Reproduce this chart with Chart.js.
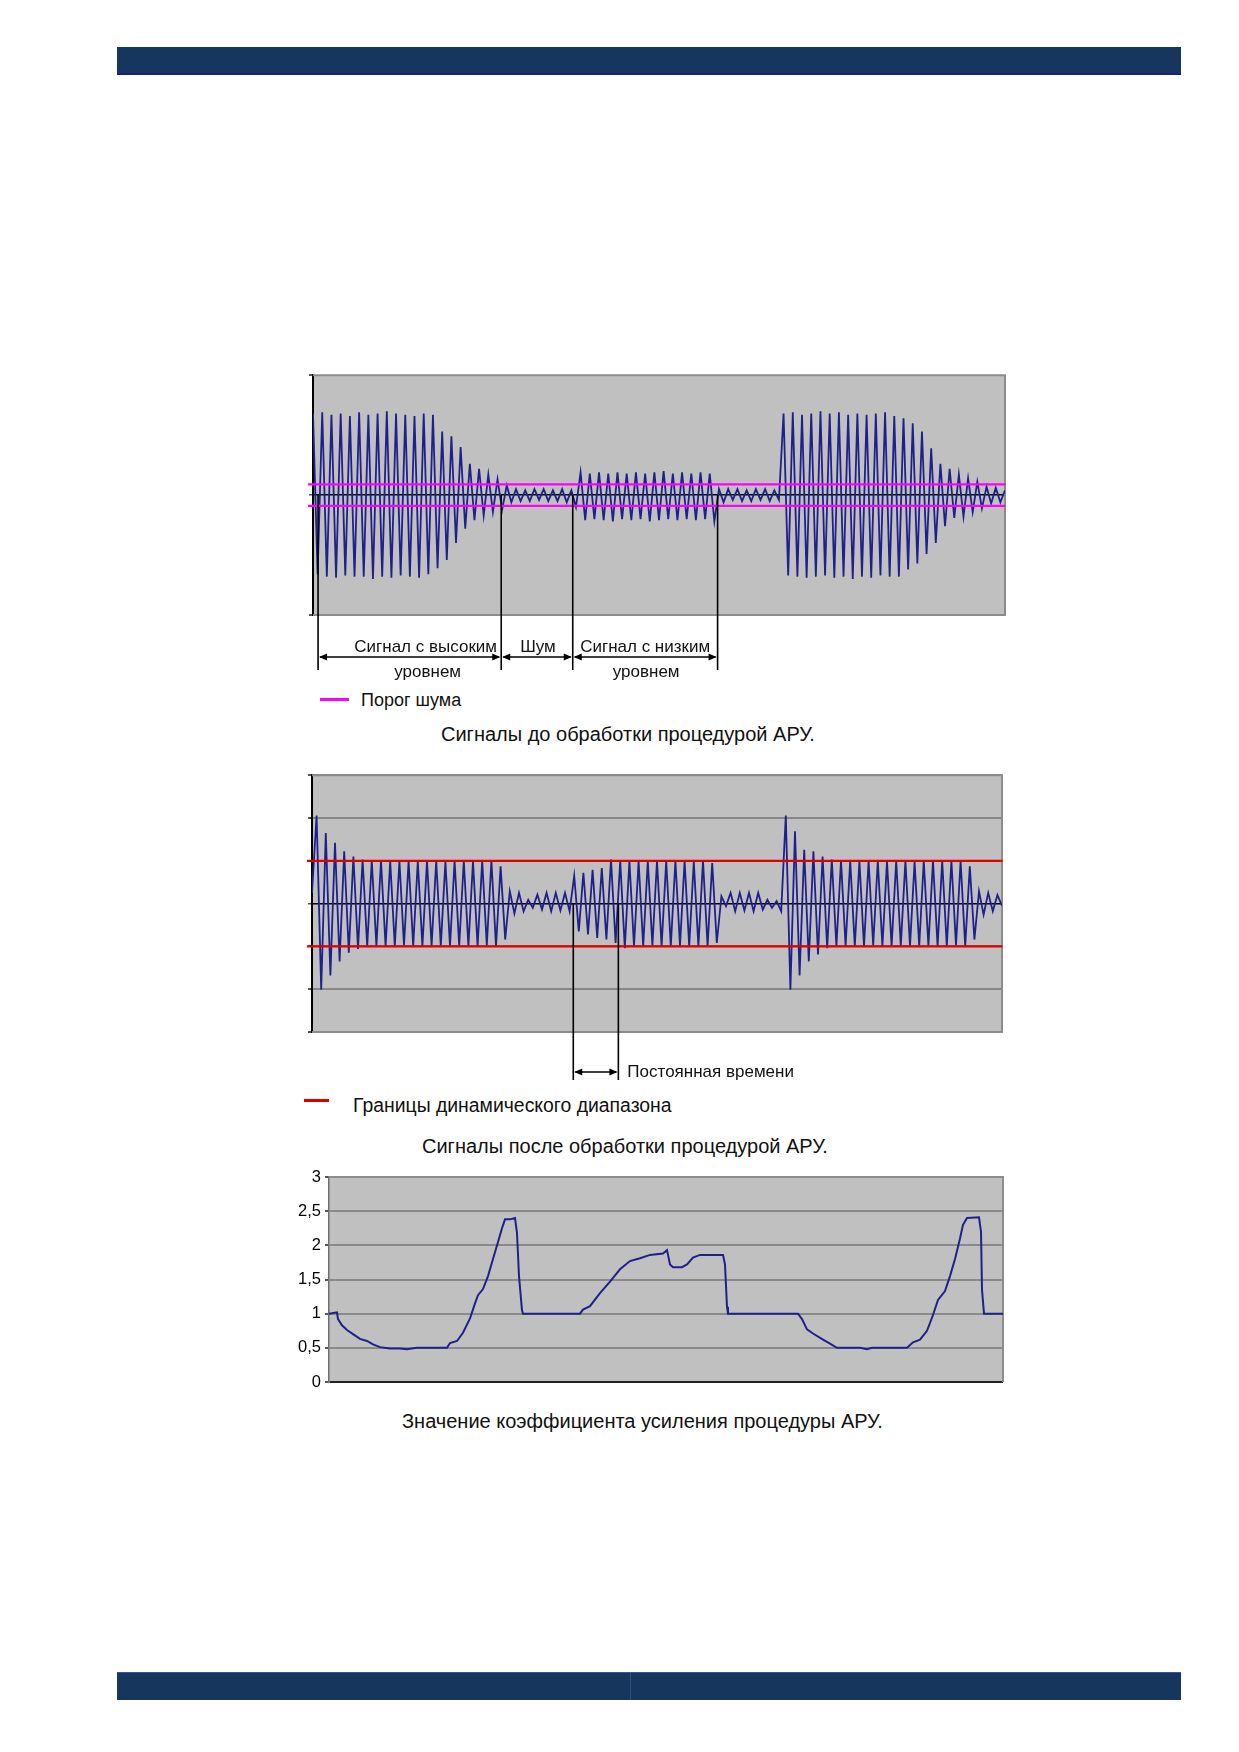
<!DOCTYPE html>
<html lang="ru">
<head>
<meta charset="UTF-8">
<title>Сигналы АРУ</title>
<script src="https://cdn.jsdelivr.net/npm/chart.js"></script>
<style>
  body { margin: 0; background: #fff; font-family: "Liberation Sans", Arial, sans-serif; }
  .page { position: relative; width: 1239px; height: 1752px; overflow: hidden; }
  .bar { position: absolute; left: 117px; width: 1064px; background: #17365d; }
  .top-bar { top: 47px; height: 26px; border-bottom: 2px solid #1b1b8a; }
  .bottom-bar { top: 1672px; height: 27px; border-top: 1px solid #3b4fb0; }
  .bottom-bar .split { position: absolute; left: 513px; top: 0; bottom: 0; width: 1px; background: #2f4f80; }
  .box { position: absolute; }
  .txt { position: absolute; white-space: nowrap; color: #111; line-height: 1; }
  .key { position: absolute; height: 3px; }
</style>
</head>
<body>
<div class="page">
  <div class="bar top-bar"></div>

  <div class="box" style="left:280px; top:365px; width:740px; height:320px;">
    <canvas id="before" width="740" height="320"></canvas>
  </div>
  <div class="key" style="left:320px; top:698px; width:29px; background:#ff00ff;"></div>
  <div class="txt" style="left:361px; top:691px; font-size:18px;">Порог шума</div>
  <div class="txt" style="left:441px; top:724px; font-size:20px;">Сигналы до обработки процедурой АРУ.</div>

  <div class="box" style="left:280px; top:765px; width:740px; height:325px;">
    <canvas id="after" width="740" height="325"></canvas>
  </div>
  <div class="key" style="left:304px; top:1099px; width:25px; background:#e00000;"></div>
  <div class="txt" style="left:353px; top:1096px; font-size:19.4px;">Границы динамического диапазона</div>
  <div class="txt" style="left:422px; top:1136px; font-size:20px;">Сигналы после обработки процедурой АРУ.</div>

  <div class="box" style="left:280px; top:1160px; width:740px; height:240px;">
    <canvas id="gain" width="740" height="240"></canvas>
  </div>
  <div class="txt" style="left:402px; top:1411px; font-size:20px;">Значение коэффициента усиления процедуры АРУ.</div>

  <div class="bar bottom-bar"><div class="split"></div></div>
</div>

<script>
// signal before AGC: successive extremes
const before = [
  0.68, -0.66, 0.69, -0.68, 0.67, -0.69, 0.68, -0.67, 0.66, -0.68, 0.69, -0.68, 0.67, -0.70,
  0.68, -0.68, 0.70, -0.69, 0.68, -0.67, 0.67, -0.68, 0.66, -0.69, 0.68, -0.66, 0.67,
  -0.61, 0.53, -0.54, 0.49, -0.40, 0.40, -0.28, 0.26, -0.21, 0.22, -0.17, 0.17, -0.14, 0.13, -0.12,
  0.08, -0.06, 0.05, -0.05, 0.04, -0.05, 0.05, -0.04, 0.05, -0.05, 0.04, -0.05, 0.05, -0.06, 0.04,
  -0.10, 0.19, -0.21, 0.18, -0.20, 0.19, -0.21, 0.18, -0.22, 0.19, -0.20, 0.18, -0.21, 0.19, -0.20,
  0.18, -0.22, 0.19, -0.21, 0.20, -0.20, 0.18, -0.21, 0.19, -0.20, 0.18, -0.21, 0.19, -0.20, 0.18, -0.22,
  0.05, -0.06, 0.05, -0.04, 0.05, -0.05, 0.04, -0.05, 0.05, -0.04, 0.05, -0.05, 0.04, -0.04,
  0.68, -0.67, 0.69, -0.68, 0.67, -0.69, 0.68, -0.68, 0.70, -0.67, 0.68, -0.69, 0.69, -0.68,
  0.67, -0.70, 0.68, -0.68, 0.67, -0.69, 0.68, -0.67, 0.69, -0.68, 0.66, -0.68, 0.64,
  -0.62, 0.60, -0.57, 0.53, -0.49, 0.39, -0.40, 0.26, -0.26, 0.22, -0.19, 0.17, -0.18, 0.14,
  -0.14, 0.11, -0.11, 0.07, -0.07, 0.06, -0.06, 0.04
];
const noiseThreshold = [0.09, -0.09];
const beforeMarks = [1.1, 40.8, 56.3, 87.7];

// signal after AGC
const after = [
  0.25, 2.06, -2.01, 1.65, -1.68, 1.42, -1.35, 1.22, -1.15, 1.10, -1.06, 1.03, -1.00,
  1.00, -0.99, 1.00, -1.00, 0.99, -1.00, 1.00, -0.98, 1.00, -1.00, 0.99, -1.00, 1.00, -0.99,
  1.00, -1.00, 0.98, -1.00, 1.00, -0.99, 1.00, -1.00, 0.99, -1.00, 1.00, -0.98, 1.00, -1.00,
  0.87, -0.84,
  0.29, -0.23, 0.25, -0.18, 0.09, -0.10, 0.21, -0.14, 0.25, -0.18, 0.25, -0.16, 0.25, -0.18,
  0.65, -0.65, 0.72, -0.72, 0.79, -0.80, 0.83, -0.84, 1.03, -0.92, 1.00, -1.04,
  1.00, -1.00, 0.99, -1.00, 1.00, -0.98, 1.00, -1.00, 0.99, -1.00, 1.00, -0.99, 1.00, -1.00,
  0.98, -1.00, 1.00, -1.00,
  0.95, -0.92,
  0.17, -0.06, 0.25, -0.18, 0.25, -0.16, 0.25, -0.18, 0.25, -0.14, 0.09, -0.10, 0.06, -0.18,
  2.06, -2.01, 1.69, -1.68, 1.26, -1.35, 1.22, -1.19, 1.10, -1.04, 1.03, -1.00,
  1.00, -0.99, 1.00, -1.00, 0.99, -1.00, 1.00, -0.98, 1.00, -1.00, 0.99, -1.00, 1.00, -0.99,
  1.00, -1.00, 0.98, -1.00, 1.00, -0.99, 1.00, -1.00, 0.99, -1.00, 1.00, -0.98, 1.00, -1.00,
  0.87, -0.84,
  0.29, -0.26, 0.25, -0.18, 0.20, -0.05
];
const rangeLimits = [1, -1];
const afterMarks = [56.8, 66.6];

// AGC gain
const gainTime = [0, 8, 9, 13, 18, 24, 31, 38, 44, 51, 61, 71, 78, 88, 118, 121, 128, 134, 141, 146,
  149, 154, 159, 164, 169, 173, 176, 181, 186, 188, 190, 193, 194, 251, 254, 261, 271, 281, 291, 301,
  311, 321, 334, 338, 341, 344, 353, 358, 364, 371, 394, 396, 398, 399, 469, 473, 478, 484, 494, 501,
  508, 531, 538, 543, 578, 584, 591, 598, 604, 609, 616, 621, 626, 631, 634, 638, 650, 652, 653, 655, 674];
const gainValue = [1.00, 1.02, 0.92, 0.83, 0.76, 0.70, 0.63, 0.60, 0.55, 0.51, 0.49, 0.49, 0.48, 0.50, 0.50, 0.57, 0.60, 0.72, 0.93, 1.15,
  1.27, 1.36, 1.55, 1.80, 2.05, 2.25, 2.38, 2.38, 2.40, 2.18, 1.55, 1.05, 1.00, 1.00, 1.06, 1.11, 1.30, 1.47, 1.65, 1.77,
  1.81, 1.86, 1.88, 1.93, 1.72, 1.68, 1.68, 1.72, 1.82, 1.86, 1.86, 1.72, 1.10, 1.00, 1.00, 0.92, 0.77, 0.71, 0.62, 0.56,
  0.50, 0.50, 0.48, 0.50, 0.50, 0.58, 0.62, 0.75, 0.98, 1.20, 1.33, 1.55, 1.80, 2.10, 2.30, 2.40, 2.41, 2.20, 1.35, 1.00, 1.00];
const gainTicks = ['0', '0,5', '1', '1,5', '2', '2,5', '3'];

const FONT = '"Liberation Sans", Arial, sans-serif';
const NAVY = '#20208c';

// silver plot area + grey frame
const frame = {
  id: 'frame',
  beforeDraw(chart) {
    const { ctx, chartArea: a } = chart;
    ctx.save();
    ctx.fillStyle = '#c0c0c0';
    ctx.fillRect(a.left, a.top, a.right - a.left, a.bottom - a.top);
    ctx.restore();
  },
  beforeDatasetsDraw(chart, args, opts) {
    const { ctx, chartArea: a } = chart;
    ctx.save();
    ctx.strokeStyle = '#8c8c8c';
    ctx.lineWidth = 2;
    ctx.beginPath();
    ctx.moveTo(a.left, a.top);
    ctx.lineTo(a.right, a.top);
    ctx.lineTo(a.right, a.bottom);
    if (opts.bottom !== false) ctx.lineTo(a.left, a.bottom);
    ctx.stroke();
    ctx.restore();
  }
};

function arrowHead(ctx, x, y, dir) {
  ctx.beginPath();
  ctx.moveTo(x, y);
  ctx.lineTo(x - dir * 8, y - 3.5);
  ctx.lineTo(x - dir * 8, y + 3.5);
  ctx.closePath();
  ctx.fill();
}

// vertical markers, dimension arrows and their captions
const marks = {
  id: 'marks',
  afterDraw(chart, args, opts) {
    if (!opts.at) return;
    const { ctx } = chart;
    const xs = chart.scales.x, ys = chart.scales.y;
    const bottom = chart.chartArea.bottom;
    const px = opts.at.map(v => xs.getPixelForValue(v));
    const y0 = ys.getPixelForValue(0);
    ctx.save();
    ctx.strokeStyle = '#000';
    ctx.fillStyle = '#000';
    ctx.lineWidth = 1.6;
    px.forEach(p => {
      ctx.beginPath();
      ctx.moveTo(p, y0);
      ctx.lineTo(p, bottom + opts.drop);
      ctx.stroke();
    });
    const ay = bottom + opts.arrowY;
    ctx.lineWidth = 1.4;
    for (let k = 0; k < px.length - 1; k++) {
      ctx.beginPath();
      ctx.moveTo(px[k] + 2, ay);
      ctx.lineTo(px[k + 1] - 2, ay);
      ctx.stroke();
      arrowHead(ctx, px[k] + 1, ay, -1);
      arrowHead(ctx, px[k + 1] - 1, ay, 1);
    }
    ctx.font = '17px ' + FONT;
    ctx.fillStyle = '#111';
    ctx.textBaseline = 'middle';
    opts.labels.forEach(l => {
      ctx.textAlign = l.align || 'center';
      const x = l.align === 'left' ? px[l.seg] + l.dx : (px[l.seg] + px[l.seg + 1]) / 2 + l.dx;
      ctx.fillText(l.text, x, bottom + l.dy);
    });
    ctx.restore();
  }
};

Chart.register(frame, marks);

const pts = arr => arr.map((v, i) => ({ x: i, y: v }));
const hline = (v, x0, x1) => [{ x: x0, y: v }, { x: x1, y: v }];

function signalChart(id, data, levels, levelColor, yMax, pad, markOpts, grey) {
  return new Chart(document.getElementById(id), {
    type: 'line',
    data: {
      datasets: [
        ...levels.map(v => ({
          data: hline(v, -1.1, data.length - 0.9),
          borderColor: levelColor, borderWidth: 2.2, pointRadius: 0, clip: false, order: 0
        })),
        { data: pts(data), borderColor: NAVY, borderWidth: 1.8, pointRadius: 0, tension: 0, order: 1 }
      ]
    },
    options: {
      responsive: false,
      animation: false,
      events: [],
      layout: { autoPadding: false, padding: pad },
      plugins: { legend: { display: false }, tooltip: { enabled: false }, marks: markOpts },
      scales: {
        x: { type: 'linear', min: 0, max: data.length - 1, display: false },
        y: {
          min: -yMax, max: yMax,
          afterFit: s => { s.width = 8; },
          ticks: { stepSize: 1, callback: () => '' },
          grid: {
            color: c => c.tick && c.tick.value === 0 ? '#000' : grey,
            lineWidth: c => c.tick && c.tick.value === 0 ? 1.5 : 2,
            drawTicks: true, tickLength: 4, tickColor: '#555'
          },
          border: { color: '#000', width: 2 }
        }
      }
    }
  });
}

signalChart('before', before, noiseThreshold, '#ff00ff', 1,
  { left: 25, right: 15, top: 10, bottom: 70 },
  {
    at: beforeMarks, drop: 55, arrowY: 42,
    labels: [
      { text: 'Сигнал с высоким', seg: 0, dx: 16, dy: 32 },
      { text: 'уровнем', seg: 0, dx: 18, dy: 57 },
      { text: 'Шум', seg: 1, dx: 1, dy: 32 },
      { text: 'Сигнал с низким', seg: 2, dx: 0, dy: 32 },
      { text: 'уровнем', seg: 2, dx: 1, dy: 57 }
    ]
  }, 'rgba(0,0,0,0)');

signalChart('after', after, rangeLimits, '#e00000', 3,
  { left: 24, right: 18, top: 10, bottom: 58 },
  {
    at: afterMarks, drop: 48, arrowY: 40,
    labels: [{ text: 'Постоянная времени', seg: 1, dx: 9, dy: 40, align: 'left' }]
  }, '#878787');

new Chart(document.getElementById('gain'), {
  type: 'line',
  data: {
    datasets: [{
      data: gainTime.map((t, i) => ({ x: t, y: gainValue[i] })),
      borderColor: NAVY, borderWidth: 2, pointRadius: 0, tension: 0
    }]
  },
  options: {
    responsive: false,
    animation: false,
    events: [],
    layout: { autoPadding: false, padding: { left: 9, right: 17, top: 17, bottom: 18 } },
    plugins: { legend: { display: false }, tooltip: { enabled: false }, frame: { bottom: false } },
    scales: {
      x: { type: 'linear', min: 0, max: 674, display: false },
      y: {
        min: 0, max: 3,
        afterFit: s => { s.width = 40; },
        ticks: {
          stepSize: 0.5, padding: 4, color: '#000',
          font: { family: FONT, size: 16.5 },
          callback: (v, i) => gainTicks[i]
        },
        grid: {
          color: c => c.tick && c.tick.value === 0 ? '#222' : '#8a8a8a',
          lineWidth: 2, drawTicks: true, tickLength: 4, tickColor: '#555'
        },
        border: { color: '#6e6e6e', width: 1.5 }
      }
    }
  }
});
</script>
</body>
</html>
